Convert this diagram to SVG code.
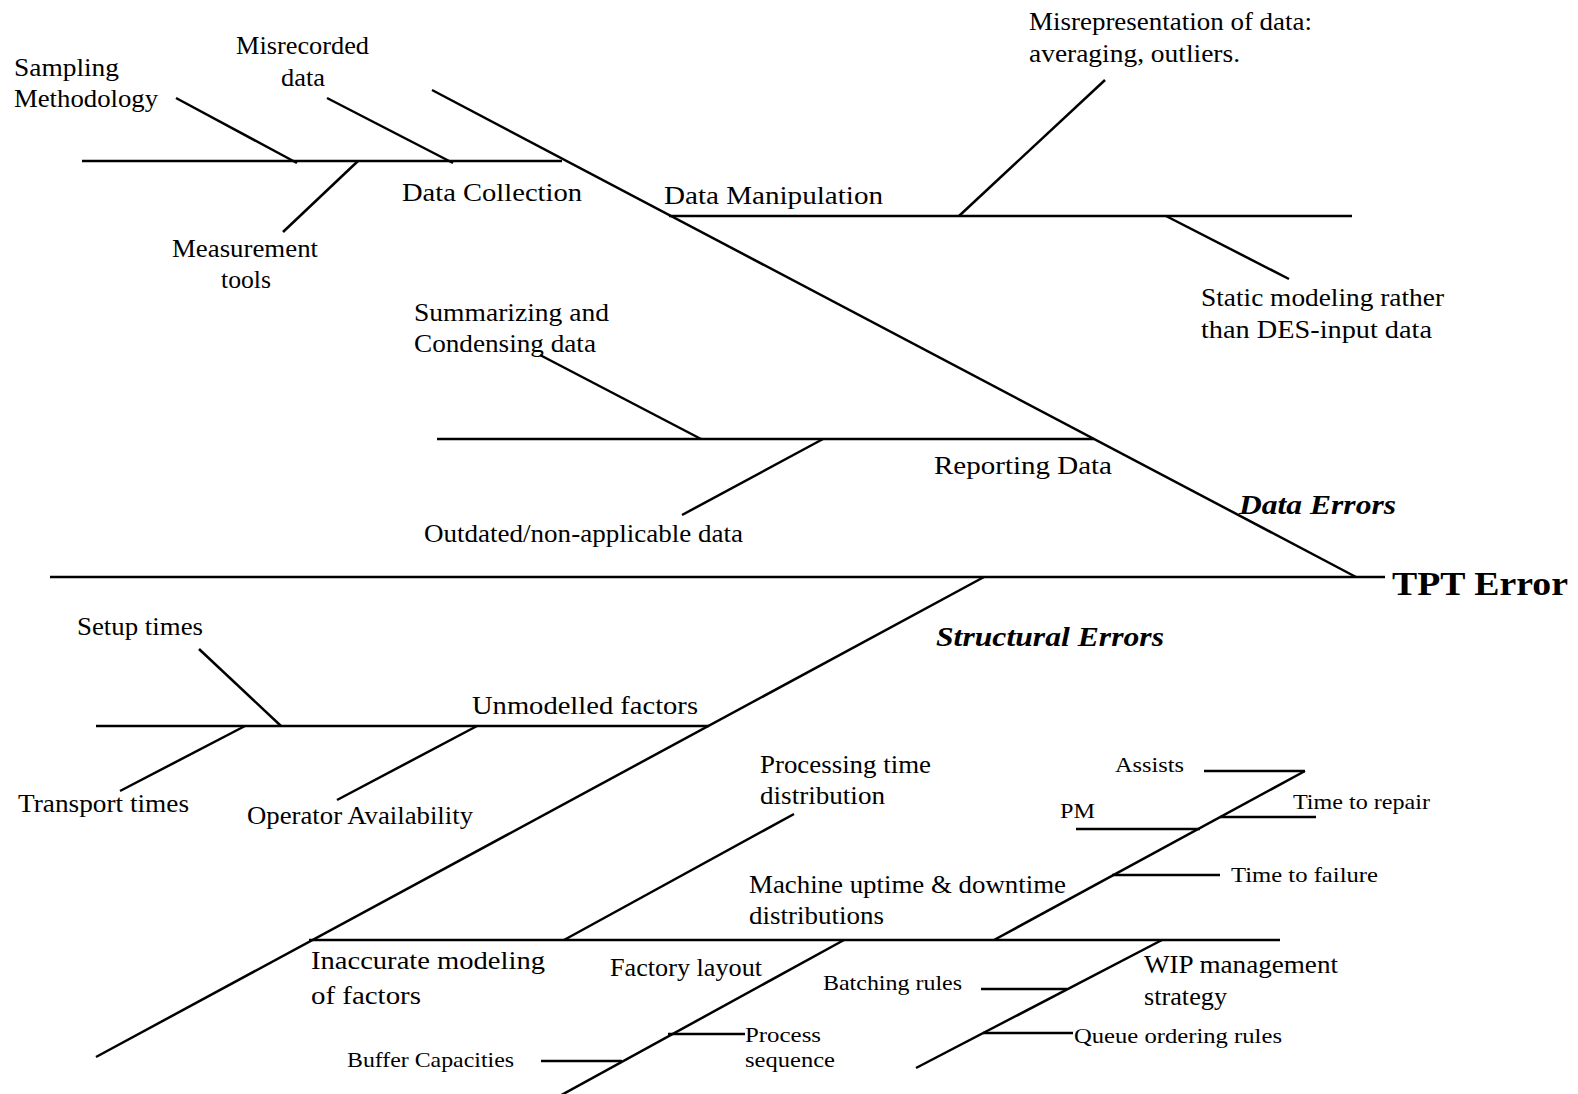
<svg xmlns="http://www.w3.org/2000/svg" width="1578" height="1094" viewBox="0 0 1578 1094">
  <style>
    .bone { stroke: #000; stroke-width: 2.5; fill: none; stroke-linecap: butt; }
    text { font-family: "Liberation Serif", "Times New Roman", serif; fill: #000; }
    .lbl { font-size: 25px; }
    .sm { font-size: 21px; }
    .cat { font-size: 27px; font-weight: bold; font-style: italic; }
    .head { font-size: 34px; font-weight: bold; }
  </style>
  <rect width="1578" height="1094" fill="#fff"/>

  <!-- fishbone structure -->
  <g id="connectors" class="bone">
    <!-- head spine -->
    <line x1="50" y1="577" x2="1385" y2="577"/>
    <!-- data errors branch -->
    <line x1="432" y1="90" x2="1356" y2="577"/>
    <line x1="82" y1="161" x2="562" y2="161"/>
    <line x1="176" y1="98" x2="297" y2="163"/>
    <line x1="327" y1="98" x2="453" y2="163"/>
    <line x1="358" y1="161" x2="283" y2="232"/>
    <line x1="669" y1="216" x2="1352" y2="216"/>
    <line x1="1105" y1="80" x2="959" y2="216"/>
    <line x1="1166" y1="216" x2="1289" y2="279"/>
    <line x1="437" y1="439" x2="1094" y2="439"/>
    <line x1="540" y1="355" x2="701" y2="439"/>
    <line x1="823" y1="439" x2="682" y2="515"/>
    <!-- structural errors branch -->
    <line x1="984" y1="577" x2="96" y2="1057"/>
    <line x1="96" y1="726" x2="709" y2="726"/>
    <line x1="199" y1="649" x2="281" y2="726"/>
    <line x1="245" y1="726" x2="120" y2="791"/>
    <line x1="477" y1="726" x2="337" y2="800"/>
    <line x1="309" y1="940" x2="1280" y2="940"/>
    <line x1="564" y1="940" x2="794" y2="814"/>
    <line x1="844" y1="940" x2="556" y2="1098"/>
    <line x1="668" y1="1034" x2="745" y2="1034"/>
    <line x1="541" y1="1061" x2="622" y2="1061"/>
    <line x1="994" y1="940" x2="1305" y2="771"/>
    <line x1="1204" y1="771" x2="1305" y2="771"/>
    <line x1="1076" y1="829" x2="1200" y2="829"/>
    <line x1="1220" y1="817" x2="1316" y2="817"/>
    <line x1="1112" y1="875" x2="1220" y2="875"/>
    <line x1="1162" y1="940" x2="916" y2="1068"/>
    <line x1="981" y1="989" x2="1067" y2="989"/>
    <line x1="983" y1="1033" x2="1073" y2="1033"/>
  </g>

  <!-- effect -->
  <g id="tpt-error"><text class="head" x="1392" y="595" textLength="176" lengthAdjust="spacingAndGlyphs">TPT Error</text></g>

  <!-- categories -->
  <g id="data-errors"><text class="cat" x="1239" y="514" textLength="157" lengthAdjust="spacingAndGlyphs">Data Errors</text></g>
  <g id="structural-errors"><text class="cat" x="936" y="646" textLength="228" lengthAdjust="spacingAndGlyphs">Structural Errors</text></g>

  <!-- data collection -->
  <g id="data-collection"><text class="lbl" x="402" y="201" textLength="180" lengthAdjust="spacingAndGlyphs">Data Collection</text></g>
  <g id="sampling-methodology">
    <text class="lbl" x="14" y="76" textLength="105" lengthAdjust="spacingAndGlyphs">Sampling</text>
    <text class="lbl" x="14" y="107" textLength="144" lengthAdjust="spacingAndGlyphs">Methodology</text>
  </g>
  <g id="misrecorded-data">
    <text class="lbl" x="236" y="54" textLength="133" lengthAdjust="spacingAndGlyphs">Misrecorded</text>
    <text class="lbl" x="281" y="86" textLength="44" lengthAdjust="spacingAndGlyphs">data</text>
  </g>
  <g id="measurement-tools">
    <text class="lbl" x="172" y="257" textLength="146" lengthAdjust="spacingAndGlyphs">Measurement</text>
    <text class="lbl" x="221" y="288" textLength="50" lengthAdjust="spacingAndGlyphs">tools</text>
  </g>

  <!-- data manipulation -->
  <g id="data-manipulation"><text class="lbl" x="664" y="204" textLength="219" lengthAdjust="spacingAndGlyphs">Data Manipulation</text></g>
  <g id="misrepresentation">
    <text class="lbl" x="1029" y="30" textLength="283" lengthAdjust="spacingAndGlyphs">Misrepresentation of data:</text>
    <text class="lbl" x="1029" y="62" textLength="211" lengthAdjust="spacingAndGlyphs">averaging, outliers.</text>
  </g>
  <g id="static-modeling">
    <text class="lbl" x="1201" y="306" textLength="243" lengthAdjust="spacingAndGlyphs">Static modeling rather</text>
    <text class="lbl" x="1201" y="338" textLength="231" lengthAdjust="spacingAndGlyphs">than  DES-input data</text>
  </g>

  <!-- reporting data -->
  <g id="reporting-data"><text class="lbl" x="934" y="474" textLength="178" lengthAdjust="spacingAndGlyphs">Reporting Data</text></g>
  <g id="summarizing">
    <text class="lbl" x="414" y="321" textLength="195" lengthAdjust="spacingAndGlyphs">Summarizing and</text>
    <text class="lbl" x="414" y="352" textLength="182" lengthAdjust="spacingAndGlyphs">Condensing data</text>
  </g>
  <g id="outdated-data"><text class="lbl" x="424" y="542" textLength="319" lengthAdjust="spacingAndGlyphs">Outdated/non-applicable data</text></g>

  <!-- unmodelled factors -->
  <g id="unmodelled-factors"><text class="lbl" x="472" y="714" textLength="226" lengthAdjust="spacingAndGlyphs">Unmodelled factors</text></g>
  <g id="setup-times"><text class="lbl" x="77" y="635" textLength="126" lengthAdjust="spacingAndGlyphs">Setup times</text></g>
  <g id="transport-times"><text class="lbl" x="18" y="812" textLength="171" lengthAdjust="spacingAndGlyphs">Transport times</text></g>
  <g id="operator-availability"><text class="lbl" x="247" y="824" textLength="226" lengthAdjust="spacingAndGlyphs">Operator Availability</text></g>

  <!-- inaccurate modeling -->
  <g id="inaccurate-modeling">
    <text class="lbl" x="311" y="969" textLength="234" lengthAdjust="spacingAndGlyphs">Inaccurate modeling</text>
    <text class="lbl" x="311" y="1004" textLength="110" lengthAdjust="spacingAndGlyphs">of factors</text>
  </g>
  <g id="processing-time">
    <text class="lbl" x="760" y="773" textLength="171" lengthAdjust="spacingAndGlyphs">Processing time</text>
    <text class="lbl" x="760" y="804" textLength="125" lengthAdjust="spacingAndGlyphs">distribution</text>
  </g>
  <g id="factory-layout"><text class="lbl" x="610" y="976" textLength="152" lengthAdjust="spacingAndGlyphs">Factory layout</text></g>
  <g id="process-sequence">
    <text class="sm" x="745" y="1042" textLength="76" lengthAdjust="spacingAndGlyphs">Process</text>
    <text class="sm" x="745" y="1067" textLength="90" lengthAdjust="spacingAndGlyphs">sequence</text>
  </g>
  <g id="buffer-capacities"><text class="sm" x="347" y="1067" textLength="167" lengthAdjust="spacingAndGlyphs">Buffer Capacities</text></g>

  <!-- machine uptime & downtime -->
  <g id="machine-uptime">
    <text class="lbl" x="749" y="893" textLength="317" lengthAdjust="spacingAndGlyphs">Machine uptime &amp; downtime</text>
    <text class="lbl" x="749" y="924" textLength="135" lengthAdjust="spacingAndGlyphs">distributions</text>
  </g>
  <g id="assists"><text class="sm" x="1115" y="772" textLength="69" lengthAdjust="spacingAndGlyphs">Assists</text></g>
  <g id="pm"><text class="sm" x="1060" y="818" textLength="35" lengthAdjust="spacingAndGlyphs">PM</text></g>
  <g id="time-to-repair"><text class="sm" x="1293" y="809" textLength="137" lengthAdjust="spacingAndGlyphs">Time to repair</text></g>
  <g id="time-to-failure"><text class="sm" x="1231" y="882" textLength="147" lengthAdjust="spacingAndGlyphs">Time to failure</text></g>

  <!-- WIP management -->
  <g id="wip-management">
    <text class="lbl" x="1144" y="973" textLength="194" lengthAdjust="spacingAndGlyphs">WIP management</text>
    <text class="lbl" x="1144" y="1005" textLength="83" lengthAdjust="spacingAndGlyphs">strategy</text>
  </g>
  <g id="batching-rules"><text class="sm" x="823" y="990" textLength="139" lengthAdjust="spacingAndGlyphs">Batching rules</text></g>
  <g id="queue-ordering"><text class="sm" x="1074" y="1043" textLength="208" lengthAdjust="spacingAndGlyphs">Queue ordering rules</text></g>
</svg>
